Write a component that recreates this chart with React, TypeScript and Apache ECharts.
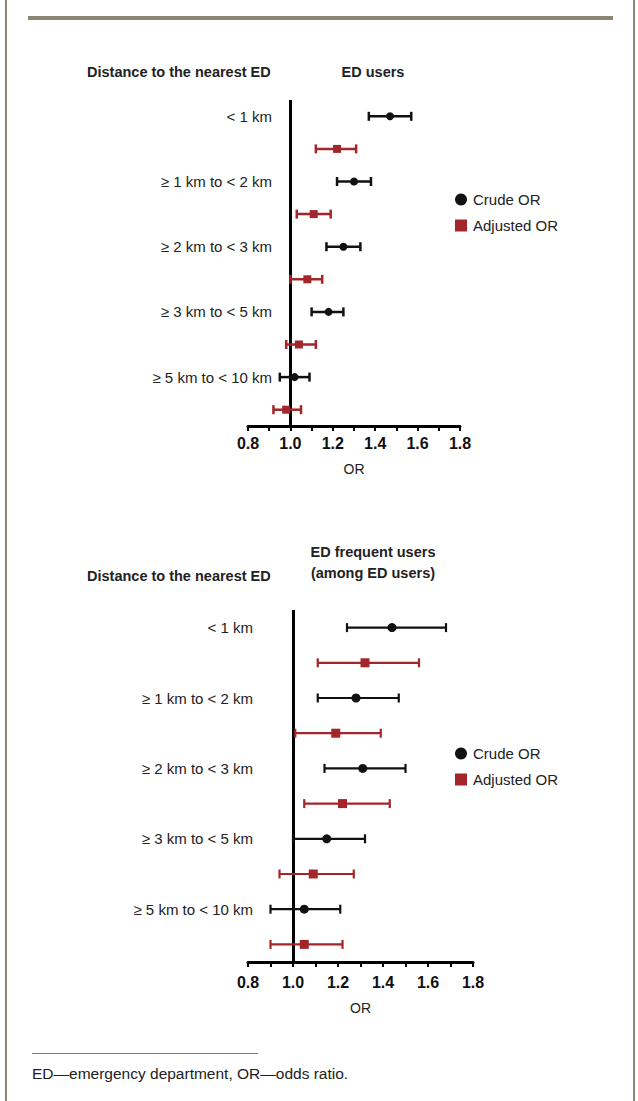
import React, { useEffect, useRef } from "react";
import * as echarts from "echarts";

// ---- data ----
const CATEGORIES = ["< 1 km", "≥ 1 km to < 2 km", "≥ 2 km to < 3 km", "≥ 3 km to < 5 km", "≥ 5 km to < 10 km"];
const X_TICKS = [0.8, 1.0, 1.2, 1.4, 1.6, 1.8];

// ED users
const usersCrude = [1.47, 1.3, 1.25, 1.18, 1.02];
const usersCrudeLow = [1.37, 1.22, 1.17, 1.1, 0.95];
const usersCrudeHigh = [1.57, 1.38, 1.33, 1.25, 1.09];
const usersAdj = [1.22, 1.11, 1.08, 1.04, 0.98];
const usersAdjLow = [1.12, 1.03, 1.0, 0.98, 0.92];
const usersAdjHigh = [1.31, 1.19, 1.15, 1.12, 1.05];

// ED frequent users (among ED users)
const freqCrude = [1.44, 1.28, 1.31, 1.15, 1.05];
const freqCrudeLow = [1.24, 1.11, 1.14, 1.0, 0.9];
const freqCrudeHigh = [1.68, 1.47, 1.5, 1.32, 1.21];
const freqAdj = [1.32, 1.19, 1.22, 1.09, 1.05];
const freqAdjLow = [1.11, 1.01, 1.05, 0.94, 0.9];
const freqAdjHigh = [1.56, 1.39, 1.43, 1.27, 1.22];

const ROW_KEYS = CATEGORIES.flatMap((c) => [c, c + " (adjusted)"]);

const BLACK = "#111111";
const RED = "#a3262a";
const FRAME = "#8c8474";
const FONT = "'Liberation Sans', Arial, sans-serif";

function errorBars(name: string, color: string, low: number[], high: number[], offset: number, idx: number, lw: number, cap: number) {
  return {
    type: "custom",
    name,
    xAxisIndex: idx,
    yAxisIndex: idx,
    encode: { x: [0, 1], y: 2 },
    z: 3,
    silent: true,
    data: low.map((l, i) => [l, high[i], i * 2 + offset]),
    renderItem: (_p: any, api: any) => {
      const row = api.value(2);
      const a = api.coord([api.value(0), row]);
      const b = api.coord([api.value(1), row]);
      const h = cap / 2;
      const style = { stroke: color, lineWidth: lw };
      return {
        type: "group",
        children: [
          { type: "line", shape: { x1: a[0], y1: a[1], x2: b[0], y2: b[1] }, style },
          { type: "line", shape: { x1: a[0], y1: a[1] - h, x2: a[0], y2: a[1] + h }, style },
          { type: "line", shape: { x1: b[0], y1: b[1] - h, x2: b[0], y2: b[1] + h }, style },
        ],
      };
    },
  };
}

function points(name: string, symbol: string, color: string, vals: number[], offset: number, idx: number, size: number, withRef: boolean) {
  const s: any = {
    type: "scatter",
    name,
    xAxisIndex: idx,
    yAxisIndex: idx,
    symbol,
    symbolSize: size,
    z: 4,
    itemStyle: { color, opacity: 1 },
    data: vals.map((v, i) => [v, i * 2 + offset]),
  };
  if (withRef) {
    s.markLine = {
      silent: true,
      symbol: ["none", "none"],
      label: { show: false },
      lineStyle: { color: "#000", width: 3, type: "solid" },
      data: [{ xAxis: 1 }],
      z: 2,
    };
  }
  return s;
}

function xAxis(idx: number, labelMargin: number, nameGap: number) {
  return {
    type: "value",
    gridIndex: idx,
    min: X_TICKS[0],
    max: X_TICKS[X_TICKS.length - 1],
    interval: 0.2,
    splitLine: { show: false },
    axisLine: { show: true, onZero: false, lineStyle: { color: "#000", width: 3 } },
    axisTick: { show: true, length: 5, lineStyle: { color: "#000", width: 2 } },
    minorTick: { show: true, splitNumber: 2, length: 5, lineStyle: { color: "#000", width: 2 } },
    axisLabel: {
      margin: labelMargin,
      formatter: (v: number) => v.toFixed(1),
      fontFamily: FONT,
      fontWeight: "bold",
      fontSize: 16,
      color: "#111",
    },
    name: "OR",
    nameLocation: "middle",
    nameGap,
    nameTextStyle: { fontFamily: FONT, fontSize: 14, color: "#222" },
  };
}

function yAxis(idx: number, offset: number) {
  return {
    type: "category",
    gridIndex: idx,
    data: ROW_KEYS,
    inverse: true,
    offset,
    axisLine: { show: false },
    axisTick: { show: false },
    splitLine: { show: false },
    axisLabel: {
      interval: 0,
      margin: 8,
      formatter: (v: string, i: number) => (i % 2 === 0 ? v : ""),
      fontFamily: FONT,
      fontSize: 15,
      color: "#222",
    },
  };
}

function legend(top: number) {
  return {
    orient: "vertical",
    left: 450,
    top,
    itemGap: 11,
    itemWidth: 12,
    itemHeight: 12,
    selectedMode: false,
    data: [
      { name: "Crude OR", icon: "circle" },
      { name: "Adjusted OR", icon: "rect" },
    ],
    textStyle: { fontFamily: FONT, fontSize: 15, color: "#222", padding: [0, 0, 0, 1] },
  };
}

function text(x: number, y: number, t: string, font: string, align = "left", fill = "#222") {
  return { type: "text", x, y, silent: true, style: { text: t, font, fill, textAlign: align, textVerticalAlign: "middle" } };
}

export default function App() {
  const ref = useRef<HTMLDivElement>(null);
  useEffect(() => {
    if (!ref.current) return;
    const chart = echarts.init(ref.current, undefined, { renderer: "svg" });
    const bold = `bold 14.5px ${FONT}`;
    chart.setOption({
      animation: false,
      backgroundColor: "#ffffff",
      grid: [
        { left: 248, top: 100, width: 212, height: 326 },
        { left: 248, top: 610, width: 225, height: 352 },
      ],
      xAxis: [xAxis(0, 9, 36), xAxis(1, 12, 39)],
      yAxis: [yAxis(0, -32), yAxis(1, -13)],
      legend: [legend(187), legend(741)],
      series: [
        errorBars("Crude OR CI", BLACK, usersCrudeLow, usersCrudeHigh, 0, 0, 2.5, 9),
        errorBars("Adjusted OR CI", RED, usersAdjLow, usersAdjHigh, 1, 0, 2.5, 9),
        points("Crude OR", "circle", BLACK, usersCrude, 0, 0, 8, true),
        points("Adjusted OR", "rect", RED, usersAdj, 1, 0, 8, false),
        errorBars("Crude OR CI", BLACK, freqCrudeLow, freqCrudeHigh, 0, 1, 2.2, 9),
        errorBars("Adjusted OR CI", RED, freqAdjLow, freqAdjHigh, 1, 1, 2.2, 9),
        points("Crude OR", "circle", BLACK, freqCrude, 0, 1, 9, true),
        points("Adjusted OR", "rect", RED, freqAdj, 1, 1, 9, false),
      ],
      graphic: [
        { type: "rect", silent: true, shape: { x: 5, y: 0, width: 2, height: 1101 }, style: { fill: FRAME } },
        { type: "rect", silent: true, shape: { x: 633, y: 0, width: 2, height: 1101 }, style: { fill: FRAME } },
        { type: "rect", silent: true, shape: { x: 28, y: 16, width: 585, height: 4 }, style: { fill: FRAME } },
        { type: "rect", silent: true, shape: { x: 32, y: 1053, width: 226, height: 1 }, style: { fill: "#777" } },
        text(87, 72, "Distance to the nearest ED", bold),
        text(373, 72, "ED users", bold, "center"),
        text(87, 576, "Distance to the nearest ED", bold),
        text(373, 552, "ED frequent users", bold, "center"),
        text(373, 573, "(among ED users)", bold, "center"),
        text(32, 1073, "ED—emergency department, OR—odds ratio.", `15.5px ${FONT}`),
      ],
    });
    return () => chart.dispose();
  }, []);
  return <div ref={ref} style={{ position: "fixed", left: 0, top: 0, width: 638, height: 1101 }} />;
}
